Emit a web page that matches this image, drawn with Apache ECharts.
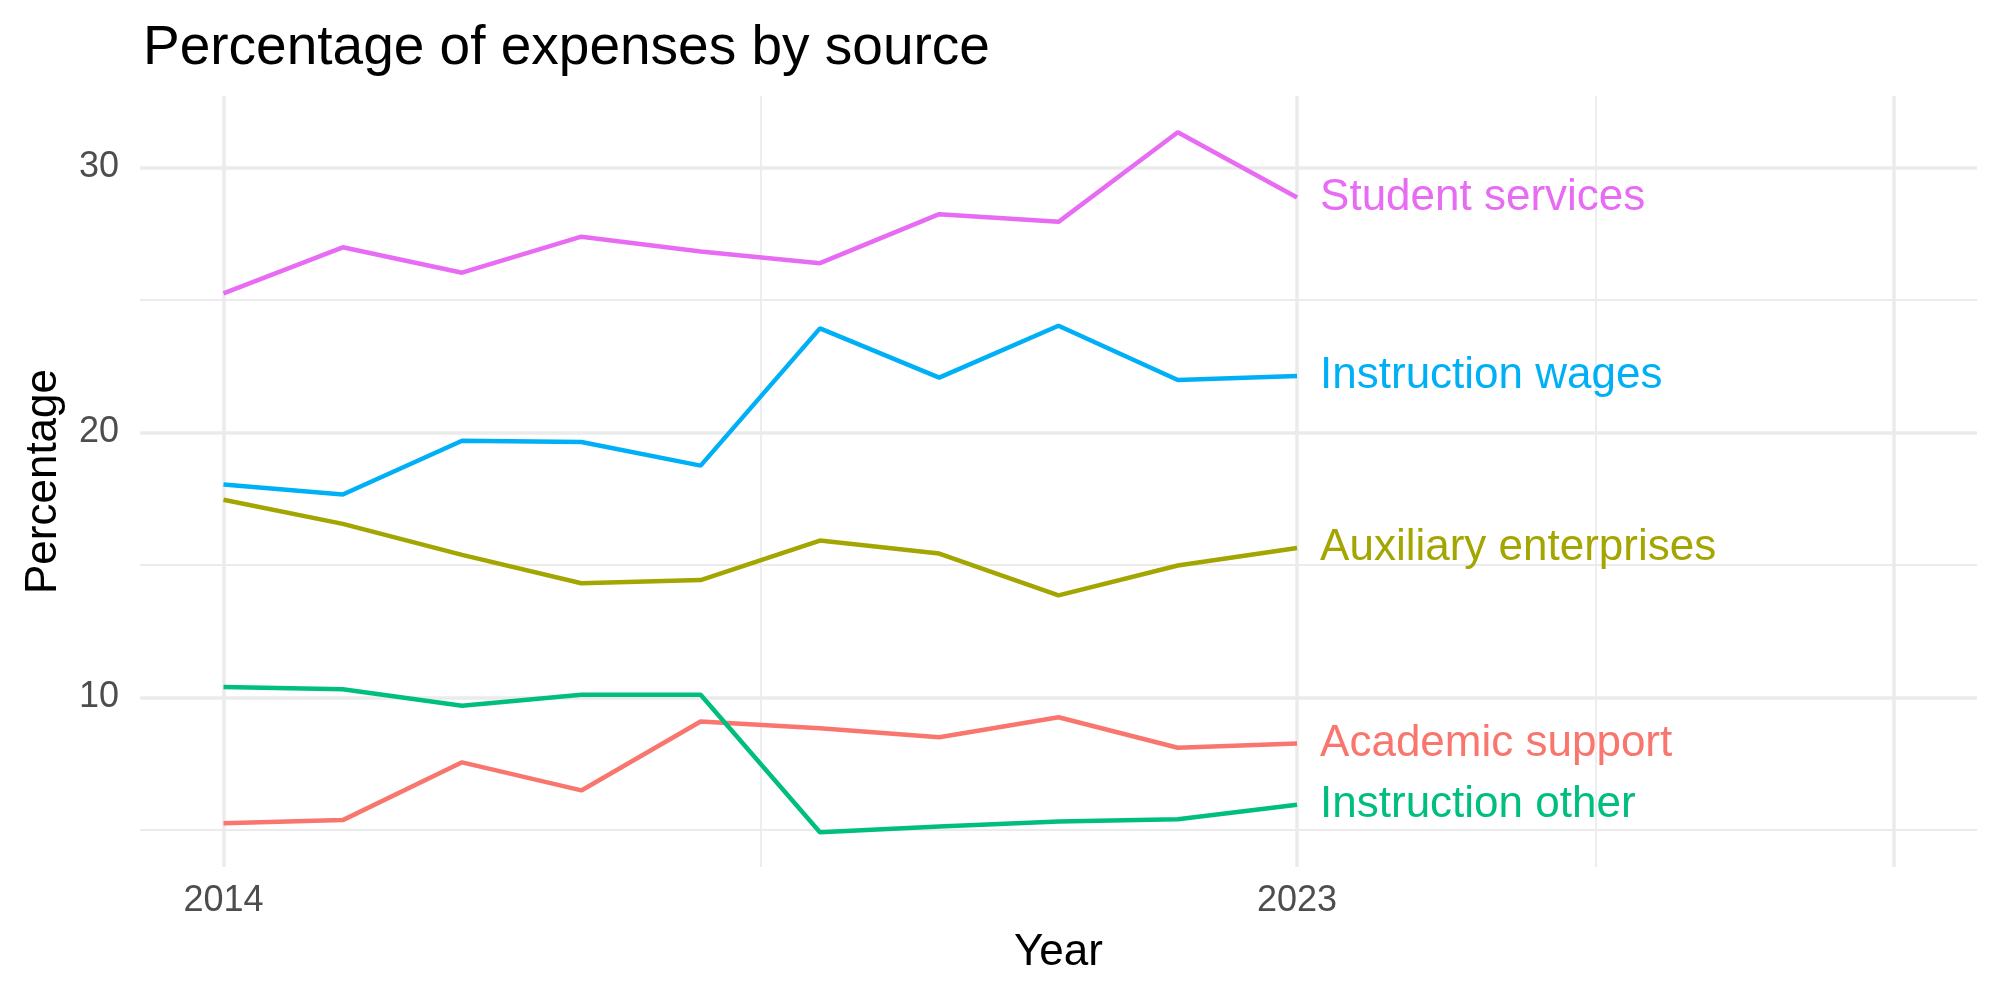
<!DOCTYPE html>
<html style="height: 100%">
<head>
<meta charset="utf-8">
<title>Percentage of expenses by source</title>
<script src="https://cdn.jsdelivr.net/npm/echarts@6/dist/echarts.min.js"></script>
</head>
<body style="height: 100%; margin: 0; background: #fff">
<div id="container" style="width: 2000px; height: 1000px"></div>
<script type="text/javascript">
// data
var years = [2014, 2015, 2016, 2017, 2018, 2019, 2020, 2021, 2022, 2023];
var academicSupport = [5.25, 5.37, 7.55, 6.49, 9.09, 8.84, 8.50, 9.25, 8.10, 8.26];
var auxiliary = [17.46, 16.55, 15.38, 14.31, 14.43, 15.92, 15.43, 13.85, 14.98, 15.64];
var instructionOther = [10.39, 10.31, 9.69, 10.10, 10.10, 4.91, 5.13, 5.32, 5.40, 5.95];
var instructionWages = [18.04, 17.66, 19.69, 19.64, 18.75, 23.93, 22.07, 24.03, 21.98, 22.13];
var studentServices = [25.25, 26.99, 26.03, 27.39, 26.83, 26.39, 28.24, 27.95, 31.33, 28.87];

var xLabels = [2014, 2023];
var yLabels = [10, 20, 30];
var xMajor = [2014, 2023, 2028];
var xMinor = [2018.5, 2025.5];
var yMajor = [10, 20, 30];
var yMinor = [5, 15, 25];

var myChart = echarts.init(document.getElementById('container'));

function pairs(vals) {
	var out = [];
	for (var i = 0; i < years.length; i++) {
		out.push([years[i], vals[i]]);
	}
	return out;
}

function lineSeries(name, vals, color) {
	return {
		name: name,
		type: 'line',
		data: pairs(vals),
		symbol: 'none',
		z: 3,
		lineStyle: { color: color, width: 4.5 },
		itemStyle: { color: color },
		emphasis: { disabled: true },
		endLabel: {
			show: true,
			formatter: name,
			color: color,
			fontSize: 44,
			fontFamily: 'Liberation Sans',
			distance: 23
		}
	};
}

// panel grid drawn as mark lines so it sits on the odd ggplot breaks
var gridLines = [];
xMinor.forEach(function (v) { gridLines.push({ xAxis: v, lineStyle: { width: 1.8 } }); });
yMinor.forEach(function (v) { gridLines.push({ yAxis: v, lineStyle: { width: 1.8 } }); });
xMajor.forEach(function (v) { gridLines.push({ xAxis: v, lineStyle: { width: 3.5 } }); });
yMajor.forEach(function (v) { gridLines.push({ yAxis: v, lineStyle: { width: 3.5 } }); });

var option = {
	animation: false,
	backgroundColor: '#ffffff',
	textStyle: { fontFamily: 'Liberation Sans' },
	title: {
		text: 'Percentage of expenses by source',
		left: 138,
		top: 16,
		textStyle: { fontSize: 55, fontWeight: 'normal', color: '#000000', fontFamily: 'Liberation Sans' }
	},
	grid: { left: 140, right: 23, top: 96, bottom: 133 },
	xAxis: {
		type: 'value',
		min: 2013.3,
		max: 2028.7,
		name: 'Year',
		nameLocation: 'middle',
		nameGap: 64,
		nameTextStyle: { fontSize: 44, color: '#000000' },
		axisLine: { show: false },
		axisTick: { show: false },
		splitLine: { show: false },
		axisLabel: {
			customValues: xLabels,
			fontSize: 36,
			color: '#4D4D4D',
			margin: 16,
			formatter: function (v) { return String(v); }
		}
	},
	yAxis: {
		type: 'value',
		min: 3.6,
		max: 32.7,
		name: 'Percentage',
		nameLocation: 'middle',
		nameRotate: 90,
		nameGap: 74,
		nameTextStyle: { fontSize: 44, color: '#000000' },
		axisLine: { show: false },
		axisTick: { show: false },
		splitLine: { show: false },
		axisLabel: {
			customValues: yLabels,
			fontSize: 36,
			color: '#4D4D4D',
			margin: 21
		}
	},
	series: [
		{
			name: 'grid',
			type: 'line',
			data: [],
			z: 1,
			silent: true,
			markLine: {
				silent: true,
				z: 1,
				symbol: ['none', 'none'],
				label: { show: false },
				lineStyle: { color: '#EBEBEB', type: 'solid' },
				emphasis: { disabled: true },
				data: gridLines
			}
		},
		lineSeries('Academic support', academicSupport, '#F8766D'),
		lineSeries('Auxiliary enterprises', auxiliary, '#A3A500'),
		lineSeries('Instruction other', instructionOther, '#00BF7D'),
		lineSeries('Instruction wages', instructionWages, '#00B0F6'),
		lineSeries('Student services', studentServices, '#E76BF3')
	]
};

myChart.setOption(option);
</script>
</body>
</html>
